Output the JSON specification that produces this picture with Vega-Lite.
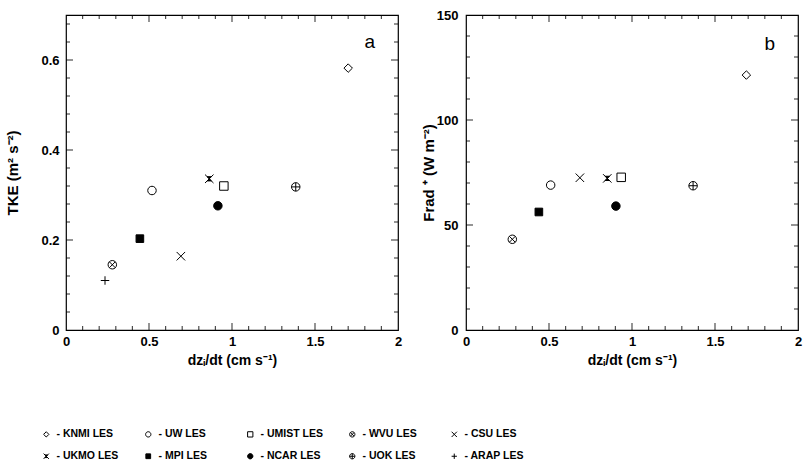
{
  "$schema": "https://vega.github.io/schema/vega-lite/v6.json",
  "padding": {"left": 5, "top": 8, "right": 5, "bottom": 5},
  "background": "white",
  "spacing": 17,
  "config": {
    "view": {"stroke": "black", "strokeWidth": 1.2},
    "font": "Liberation Sans",
    "axis": {"domain": false, "grid": false, "ticks": false, "labelColor": "black", "titleColor": "black", "labelFont": "Liberation Sans", "titleFont": "Liberation Sans", "labelFontSize": 13, "labelFontWeight": "bold", "titleFontSize": 14, "titleFontWeight": "bold", "labelFlush": false, "labelOverlap": false},
    "legend": {"labelFont": "Liberation Sans", "labelColor": "black", "padding": 0},
    "tick": {"color": "black", "thickness": 1.2}
  },
  "datasets": {
    "a": [
      {"model": "KNMI LES", "x": 1.70, "y": 0.582},
      {"model": "UW LES", "x": 0.518, "y": 0.310},
      {"model": "UMIST LES", "x": 0.951, "y": 0.320},
      {"model": "WVU LES", "x": 0.279, "y": 0.145},
      {"model": "CSU LES", "x": 0.692, "y": 0.164},
      {"model": "UKMO LES", "x": 0.863, "y": 0.336},
      {"model": "MPI LES", "x": 0.445, "y": 0.203},
      {"model": "NCAR LES", "x": 0.915, "y": 0.276},
      {"model": "UOK LES", "x": 1.384, "y": 0.318},
      {"model": "ARAP LES", "x": 0.235, "y": 0.110}
    ],
    "b": [
      {"model": "KNMI LES", "x": 1.689, "y": 121.4},
      {"model": "UW LES", "x": 0.510, "y": 69.0},
      {"model": "UMIST LES", "x": 0.935, "y": 72.7},
      {"model": "WVU LES", "x": 0.279, "y": 43.2},
      {"model": "CSU LES", "x": 0.686, "y": 72.5},
      {"model": "UKMO LES", "x": 0.851, "y": 72.2},
      {"model": "MPI LES", "x": 0.439, "y": 56.2},
      {"model": "NCAR LES", "x": 0.903, "y": 59.0},
      {"model": "UOK LES", "x": 1.368, "y": 68.7}
    ],
    "xticks": [
      {"v": 0.1, "kind": "minor"}, {"v": 0.2, "kind": "minor"}, {"v": 0.3, "kind": "minor"}, {"v": 0.4, "kind": "minor"},
      {"v": 0.5, "kind": "major"}, {"v": 0.6, "kind": "minor"}, {"v": 0.7, "kind": "minor"}, {"v": 0.8, "kind": "minor"},
      {"v": 0.9, "kind": "minor"}, {"v": 1.0, "kind": "major"}, {"v": 1.1, "kind": "minor"}, {"v": 1.2, "kind": "minor"},
      {"v": 1.3, "kind": "minor"}, {"v": 1.4, "kind": "minor"}, {"v": 1.5, "kind": "major"}, {"v": 1.6, "kind": "minor"},
      {"v": 1.7, "kind": "minor"}, {"v": 1.8, "kind": "minor"}, {"v": 1.9, "kind": "minor"}
    ],
    "yticksA": [
      {"v": 0.04, "kind": "minor"}, {"v": 0.08, "kind": "minor"}, {"v": 0.12, "kind": "minor"}, {"v": 0.16, "kind": "minor"},
      {"v": 0.2, "kind": "major"}, {"v": 0.24, "kind": "minor"}, {"v": 0.28, "kind": "minor"}, {"v": 0.32, "kind": "minor"},
      {"v": 0.36, "kind": "minor"}, {"v": 0.4, "kind": "major"}, {"v": 0.44, "kind": "minor"}, {"v": 0.48, "kind": "minor"},
      {"v": 0.52, "kind": "minor"}, {"v": 0.56, "kind": "minor"}, {"v": 0.6, "kind": "major"}, {"v": 0.64, "kind": "minor"},
      {"v": 0.68, "kind": "minor"}
    ],
    "yticksB": [
      {"v": 10, "kind": "minor"}, {"v": 20, "kind": "minor"}, {"v": 30, "kind": "minor"}, {"v": 40, "kind": "minor"},
      {"v": 50, "kind": "major"}, {"v": 60, "kind": "minor"}, {"v": 70, "kind": "minor"}, {"v": 80, "kind": "minor"},
      {"v": 90, "kind": "minor"}, {"v": 100, "kind": "major"}, {"v": 110, "kind": "minor"}, {"v": 120, "kind": "minor"},
      {"v": 130, "kind": "minor"}, {"v": 140, "kind": "minor"}
    ]
  },
  "resolve": {"scale": {"x": "independent", "y": "independent", "shape": "shared", "fill": "shared", "stroke": "shared"}},
  "hconcat": [
    {
      "width": 332,
      "height": 315,
      "layer": [
        {
          "data": {"name": "a"},
          "mark": {"type": "point", "strokeWidth": 1, "opacity": 1, "size": 72},
          "encoding": {
            "x": {"field": "x", "type": "quantitative", "scale": {"domain": [0, 2], "nice": false, "zero": false},
                  "axis": {"orient": "bottom", "values": [0, 0.5, 1, 1.5, 2], "format": "~g", "labelPadding": 5, "title": "dzᵢ/dt (cm s⁻¹)", "titlePadding": 5}},
            "y": {"field": "y", "type": "quantitative", "scale": {"domain": [0, 0.7], "nice": false, "zero": false},
                  "axis": {"orient": "left", "values": [0, 0.2, 0.4, 0.6], "format": "~g", "labelPadding": 7, "title": "TKE (m² s⁻²)", "titleFontSize": 15, "titlePadding": 20}},
            "shape": {"field": "model", "type": "nominal",
              "scale": {"domain": ["KNMI LES", "UW LES", "UMIST LES", "WVU LES", "CSU LES", "UKMO LES", "MPI LES", "NCAR LES", "UOK LES", "ARAP LES"],
                "range": ["M0,-1L1,0L0,1L-1,0Z", "M1,0A1,1,0,1,1,-1,0A1,1,0,1,1,1,0Z", "M-1,-1L1,-1L1,1L-1,1Z", "M1,0A1,1,0,1,1,-1,0A1,1,0,1,1,1,0ZM-0.7,-0.7L0.7,0.7M0.7,-0.7L-0.7,0.7", "M-1,-1L1,1M1,-1L-1,1", "M-1,-1L1,1M1,-1L-1,1M-0.5,-0.5L0.5,-0.5L-0.5,0.5L0.5,0.5Z", "M-0.9,-0.9L0.9,-0.9L0.9,0.9L-0.9,0.9Z", "M1,0A1,1,0,1,1,-1,0A1,1,0,1,1,1,0Z", "M1,0A1,1,0,1,1,-1,0A1,1,0,1,1,1,0ZM-1,0L1,0M0,-1L0,1", "M-1,0L1,0M0,-1L0,1"]},
              "legend": {"orient": "none", "legendX": -25, "legendY": 414, "columns": 5, "gridAlign": "all", "direction": "horizontal", "title": null, "labelExpr": "'- ' + datum.label", "symbolSize": 28, "symbolStrokeWidth": 1, "labelFontSize": 10.5, "labelFontWeight": "bold", "columnPadding": 24, "rowPadding": 11, "labelOffset": 5}},
            "fill": {"field": "model", "type": "nominal",
              "scale": {"domain": ["KNMI LES", "UW LES", "UMIST LES", "WVU LES", "CSU LES", "UKMO LES", "MPI LES", "NCAR LES", "UOK LES", "ARAP LES"],
                "range": ["white", "white", "white", "white", "white", "black", "black", "black", "white", "white"]},
              "legend": {"orient": "none", "legendX": -25, "legendY": 414, "columns": 5, "gridAlign": "all", "direction": "horizontal", "title": null, "labelExpr": "'- ' + datum.label", "symbolSize": 28, "symbolStrokeWidth": 1, "labelFontSize": 10.5, "labelFontWeight": "bold", "columnPadding": 24, "rowPadding": 11, "labelOffset": 5}},
            "stroke": {"field": "model", "type": "nominal",
              "scale": {"domain": ["KNMI LES", "UW LES", "UMIST LES", "WVU LES", "CSU LES", "UKMO LES", "MPI LES", "NCAR LES", "UOK LES", "ARAP LES"],
                "range": ["black", "black", "black", "black", "black", "black", "black", "black", "black", "black"]},
              "legend": {"orient": "none", "legendX": -25, "legendY": 414, "columns": 5, "gridAlign": "all", "direction": "horizontal", "title": null, "labelExpr": "'- ' + datum.label", "symbolSize": 28, "symbolStrokeWidth": 1, "labelFontSize": 10.5, "labelFontWeight": "bold", "columnPadding": 24, "rowPadding": 11, "labelOffset": 5}}
          }
        },
        {
          "data": {"name": "xticks"},
          "mark": {"type": "tick", "orient": "vertical", "clip": true},
          "encoding": {
            "x": {"field": "v", "type": "quantitative"},
            "y": {"datum": 0, "type": "quantitative"},
            "size": {"condition": {"test": "datum.kind == 'major'", "value": 14}, "value": 8}
          }
        },
        {
          "data": {"name": "xticks"},
          "mark": {"type": "tick", "orient": "vertical", "clip": true},
          "encoding": {
            "x": {"field": "v", "type": "quantitative"},
            "y": {"datum": 0.7, "type": "quantitative"},
            "size": {"condition": {"test": "datum.kind == 'major'", "value": 14}, "value": 8}
          }
        },
        {
          "data": {"name": "yticksA"},
          "mark": {"type": "tick", "orient": "horizontal", "clip": true},
          "encoding": {
            "y": {"field": "v", "type": "quantitative"},
            "x": {"datum": 0, "type": "quantitative"},
            "size": {"condition": {"test": "datum.kind == 'major'", "value": 14}, "value": 8}
          }
        },
        {
          "data": {"name": "yticksA"},
          "mark": {"type": "tick", "orient": "horizontal", "clip": true},
          "encoding": {
            "y": {"field": "v", "type": "quantitative"},
            "x": {"datum": 2, "type": "quantitative"},
            "size": {"condition": {"test": "datum.kind == 'major'", "value": 14}, "value": 8}
          }
        },
        {
          "data": {"values": [{}]},
          "mark": {"type": "text", "fontSize": 19, "fontWeight": "normal", "font": "Liberation Sans", "color": "black"},
          "encoding": {
            "x": {"datum": 1.83, "type": "quantitative"},
            "y": {"datum": 0.64, "type": "quantitative"},
            "text": {"value": "a"}
          }
        }
      ]
    },
    {
      "width": 332,
      "height": 315,
      "layer": [
        {
          "data": {"name": "b"},
          "mark": {"type": "point", "strokeWidth": 1, "opacity": 1, "size": 72},
          "encoding": {
            "x": {"field": "x", "type": "quantitative", "scale": {"domain": [0, 2], "nice": false, "zero": false},
                  "axis": {"orient": "bottom", "values": [0, 0.5, 1, 1.5, 2], "format": "~g", "labelPadding": 5, "title": "dzᵢ/dt (cm s⁻¹)", "titlePadding": 5}},
            "y": {"field": "y", "type": "quantitative", "scale": {"domain": [0, 150], "nice": false, "zero": false},
                  "axis": {"orient": "left", "values": [0, 50, 100, 150], "format": "d", "labelPadding": 8, "title": "Frad ⁺ (W m⁻²)", "titleFontSize": 15, "titlePadding": 0}},
            "shape": {"field": "model", "type": "nominal"},
            "fill": {"field": "model", "type": "nominal"},
            "stroke": {"field": "model", "type": "nominal"}
          }
        },
        {
          "data": {"name": "xticks"},
          "mark": {"type": "tick", "orient": "vertical", "clip": true},
          "encoding": {
            "x": {"field": "v", "type": "quantitative"},
            "y": {"datum": 0, "type": "quantitative"},
            "size": {"condition": {"test": "datum.kind == 'major'", "value": 14}, "value": 8}
          }
        },
        {
          "data": {"name": "xticks"},
          "mark": {"type": "tick", "orient": "vertical", "clip": true},
          "encoding": {
            "x": {"field": "v", "type": "quantitative"},
            "y": {"datum": 150, "type": "quantitative"},
            "size": {"condition": {"test": "datum.kind == 'major'", "value": 14}, "value": 8}
          }
        },
        {
          "data": {"name": "yticksB"},
          "mark": {"type": "tick", "orient": "horizontal", "clip": true},
          "encoding": {
            "y": {"field": "v", "type": "quantitative"},
            "x": {"datum": 0, "type": "quantitative"},
            "size": {"condition": {"test": "datum.kind == 'major'", "value": 14}, "value": 8}
          }
        },
        {
          "data": {"name": "yticksB"},
          "mark": {"type": "tick", "orient": "horizontal", "clip": true},
          "encoding": {
            "y": {"field": "v", "type": "quantitative"},
            "x": {"datum": 2, "type": "quantitative"},
            "size": {"condition": {"test": "datum.kind == 'major'", "value": 14}, "value": 8}
          }
        },
        {
          "data": {"values": [{}]},
          "mark": {"type": "text", "fontSize": 19, "fontWeight": "normal", "font": "Liberation Sans", "color": "black"},
          "encoding": {
            "x": {"datum": 1.83, "type": "quantitative"},
            "y": {"datum": 136, "type": "quantitative"},
            "text": {"value": "b"}
          }
        }
      ]
    }
  ]
}
